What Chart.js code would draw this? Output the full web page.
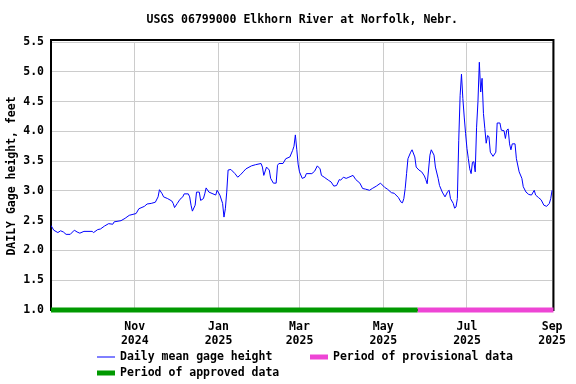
<!DOCTYPE html>
<html>
<head>
<meta charset="utf-8">
<script src="https://cdn.jsdelivr.net/npm/chart.js@4"></script>
<style>
  html, body { margin: 0; padding: 0; background: #fff; }
</style>
</head>
<body>
<canvas id="gageChart" width="576" height="384"></canvas>
<script>
// days counted from 2024-09-01
const days = [0, 2, 5, 7, 9, 11, 14, 17, 19, 21, 24, 30, 31, 34, 36, 39, 42, 45, 46, 51, 54, 57, 62, 64, 68, 70, 73, 76, 78, 79, 81, 82, 85, 88, 89, 90, 92, 94, 96, 97, 100, 101, 102, 103, 105, 106, 108, 109, 111, 112, 113, 115, 118, 120, 121, 123, 125, 126, 127, 128, 129, 131, 134, 136, 138, 140, 142, 146, 149, 153, 154, 155, 157, 159, 160, 162, 164, 165, 166, 169, 171, 174, 176, 177, 178, 179, 180, 181, 183, 185, 186, 190, 192, 194, 196, 197, 199, 202, 204, 206, 208, 210, 211, 213, 215, 217, 220, 222, 225, 227, 229, 232, 234, 237, 240, 243, 245, 248, 250, 253, 255, 256, 257, 258, 259, 260, 262, 263, 265, 266, 268, 270, 272, 273, 274, 275, 276, 277, 279, 280, 282, 283, 285, 287, 289, 290, 291, 293, 294, 295, 296, 297, 298, 299, 300, 301, 302, 303, 304, 305, 306, 307, 308, 309, 310, 311, 312, 313, 314, 315, 316, 317, 318, 319, 320, 322, 324, 325, 327, 328, 330, 331, 332, 333, 334, 335, 336, 338, 339, 341, 343, 344, 346, 348, 350, 352, 353, 355, 357, 359, 361, 363, 364, 365];
const gage = [2.42, 2.34, 2.30, 2.33, 2.31, 2.27, 2.27, 2.34, 2.31, 2.29, 2.32, 2.32, 2.30, 2.35, 2.36, 2.41, 2.45, 2.44, 2.48, 2.50, 2.54, 2.59, 2.62, 2.70, 2.74, 2.78, 2.79, 2.81, 2.90, 3.02, 2.95, 2.90, 2.87, 2.83, 2.79, 2.72, 2.79, 2.86, 2.90, 2.95, 2.95, 2.90, 2.76, 2.66, 2.76, 2.98, 2.98, 2.84, 2.87, 2.95, 3.05, 2.98, 2.95, 2.93, 3.01, 2.93, 2.79, 2.56, 2.70, 2.98, 3.35, 3.36, 3.29, 3.23, 3.27, 3.32, 3.37, 3.42, 3.44, 3.46, 3.40, 3.26, 3.40, 3.35, 3.21, 3.13, 3.13, 3.43, 3.46, 3.46, 3.54, 3.57, 3.68, 3.75, 3.94, 3.70, 3.45, 3.32, 3.21, 3.23, 3.29, 3.29, 3.33, 3.42, 3.37, 3.26, 3.23, 3.18, 3.15, 3.08, 3.09, 3.19, 3.18, 3.23, 3.21, 3.23, 3.26, 3.19, 3.13, 3.04, 3.03, 3.01, 3.04, 3.08, 3.13, 3.06, 3.03, 2.97, 2.96, 2.89, 2.81, 2.80, 2.87, 3.04, 3.29, 3.54, 3.65, 3.69, 3.57, 3.40, 3.35, 3.32, 3.25, 3.19, 3.12, 3.35, 3.60, 3.69, 3.60, 3.40, 3.21, 3.09, 2.98, 2.90, 2.99, 3.01, 2.87, 2.79, 2.71, 2.73, 2.87, 3.85, 4.60, 4.96, 4.55, 4.24, 3.96, 3.71, 3.54, 3.37, 3.29, 3.48, 3.49, 3.32, 4.07, 4.50, 5.16, 4.66, 4.89, 4.30, 4.05, 3.80, 3.93, 3.91, 3.65, 3.58, 3.65, 4.14, 4.14, 4.02, 4.01, 3.88, 4.02, 4.04, 3.79, 3.69, 3.79, 3.79, 3.54, 3.32, 3.21, 3.07, 2.98, 2.94, 2.93, 3.01, 2.93, 2.89, 2.85, 2.76, 2.74, 2.79, 2.87, 3.01];

// approval periods (day range)
const approvedPeriod = [0, 267];
const provisionalPeriod = [267, 366];

// x tick labels
const tickDays = [61, 122, 181, 242, 303, 365];
const tickMonths = ['Nov', 'Jan', 'Mar', 'May', 'Jul', 'Sep'];
const tickYears = ['2024', '2025', '2025', '2025', '2025', '2025'];

const chartTitle = 'USGS 06799000 Elkhorn River at Norfolk, Nebr.';
const fontFamily = '"DejaVu Sans Mono", "Liberation Mono", monospace';

// frame round the plot
const framePlugin = {
    id: 'frame',
    beforeDatasetsDraw(chart) {
        const { ctx, chartArea: a } = chart;
        ctx.save();
        ctx.strokeStyle = '#000';
        ctx.lineWidth = 2;
        ctx.strokeRect(a.left, a.top - 2, a.right - a.left, a.bottom - a.top + 2);
        ctx.restore();
    }
};

// title centred on the plot + legend below
const textPlugin = {
    id: 'texts',
    afterDraw(chart) {
        const { ctx, chartArea: a } = chart;
        ctx.save();
        ctx.fillStyle = '#000';
        ctx.font = 'bold 11.5px ' + fontFamily;
        ctx.textBaseline = 'middle';
        ctx.textAlign = 'center';
        ctx.fillText(chartTitle, (a.left + a.right) / 2, 20);

        const items = [
            { ds: 0, x: 97, y: 357, w: 1 },
            { ds: 2, x: 310, y: 357, w: 5 },
            { ds: 1, x: 97, y: 373, w: 5 }
        ];
        ctx.textAlign = 'left';
        items.forEach(it => {
            const ds = chart.data.datasets[it.ds];
            ctx.strokeStyle = ds.borderColor;
            ctx.lineWidth = it.w;
            ctx.beginPath();
            ctx.moveTo(it.x, it.y);
            ctx.lineTo(it.x + 18, it.y);
            ctx.stroke();
            ctx.fillText(ds.label, it.x + 23, it.y);
        });
        ctx.restore();
    }
};

const ctx = document.getElementById('gageChart').getContext('2d');
new Chart(ctx, {
    type: 'line',
    data: {
        datasets: [
            {
                label: 'Daily mean gage height',
                data: days.map((d, i) => ({ x: d, y: gage[i] })),
                borderColor: '#0000ff',
                borderWidth: 1,
                pointRadius: 0,
                tension: 0
            },
            {
                label: 'Period of approved data',
                data: approvedPeriod.map(d => ({ x: d, y: 1.0 })),
                borderColor: '#009900',
                borderWidth: 5,
                pointRadius: 0,
                clip: false
            },
            {
                label: 'Period of provisional data',
                data: provisionalPeriod.map(d => ({ x: d, y: 1.0 })),
                borderColor: '#ee45d5',
                borderWidth: 5,
                pointRadius: 0,
                clip: false
            }
        ]
    },
    options: {
        responsive: false,
        animation: false,
        devicePixelRatio: 1,
        layout: { padding: { top: 42, right: 22, bottom: 34, left: 0 } },
        plugins: {
            legend: { display: false },
            title: { display: false },
            tooltip: { enabled: false }
        },
        scales: {
            x: {
                type: 'linear',
                min: 0,
                max: 366,
                afterFit: s => { s.height = 40; },
                afterBuildTicks: s => { s.ticks = tickDays.map(v => ({ value: v })); },
                grid: { color: '#cccccc', lineWidth: 1, drawTicks: false },
                border: { display: false },
                ticks: {
                    autoSkip: false,
                    maxRotation: 0,
                    padding: 10,
                    color: '#000',
                    font: { family: fontFamily, size: 11.5, weight: 'bold' },
                    callback: (v, i) => [tickMonths[i], tickYears[i]]
                }
            },
            y: {
                min: 1.0,
                max: 5.5,
                afterFit: s => { s.width = 51; },
                grid: { color: '#cccccc', lineWidth: 1, drawTicks: false },
                border: { display: false },
                ticks: {
                    stepSize: 0.5,
                    padding: 7,
                    color: '#000',
                    font: { family: fontFamily, size: 11.5, weight: 'bold' },
                    callback: v => v.toFixed(1)
                },
                title: {
                    display: true,
                    text: 'DAILY Gage height, feet',
                    color: '#000',
                    padding: { top: 5, bottom: 0 },
                    font: { family: fontFamily, size: 11.5, weight: 'bold' }
                }
            }
        }
    },
    plugins: [framePlugin, textPlugin]
});
</script>
</body>
</html>
